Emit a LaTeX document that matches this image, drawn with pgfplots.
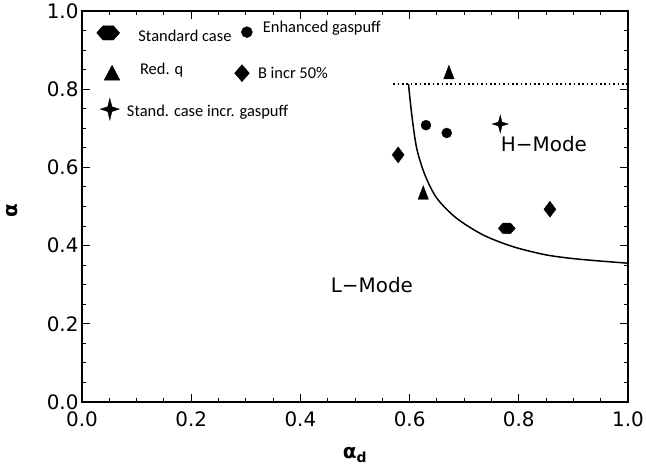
\documentclass[border=0pt]{standalone}
\usepackage{fontspec}
\setmainfont{DejaVu Sans}
\newfontfamily\cali{Carlito}
\usepackage{pgfplots}
\pgfplotsset{compat=1.18}

% flat-topped hexagon
\pgfdeclareplotmark{hexa}{%
  \pgfpathmoveto{\pgfqpoint{-\pgfplotmarksize}{0pt}}%
  \pgfpathlineto{\pgfqpoint{-0.45\pgfplotmarksize}{0.62\pgfplotmarksize}}%
  \pgfpathlineto{\pgfqpoint{0.45\pgfplotmarksize}{0.62\pgfplotmarksize}}%
  \pgfpathlineto{\pgfqpoint{\pgfplotmarksize}{0pt}}%
  \pgfpathlineto{\pgfqpoint{0.45\pgfplotmarksize}{-0.62\pgfplotmarksize}}%
  \pgfpathlineto{\pgfqpoint{-0.45\pgfplotmarksize}{-0.62\pgfplotmarksize}}%
  \pgfpathclose
  \pgfusepathqfillstroke}
% four-pointed star
\pgfdeclareplotmark{fourstar}{%
  \pgfpathmoveto{\pgfqpoint{0pt}{\pgfplotmarksize}}%
  \pgfpathlineto{\pgfqpoint{0.22\pgfplotmarksize}{0.22\pgfplotmarksize}}%
  \pgfpathlineto{\pgfqpoint{\pgfplotmarksize}{0pt}}%
  \pgfpathlineto{\pgfqpoint{0.22\pgfplotmarksize}{-0.22\pgfplotmarksize}}%
  \pgfpathlineto{\pgfqpoint{0pt}{-\pgfplotmarksize}}%
  \pgfpathlineto{\pgfqpoint{-0.22\pgfplotmarksize}{-0.22\pgfplotmarksize}}%
  \pgfpathlineto{\pgfqpoint{-\pgfplotmarksize}{0pt}}%
  \pgfpathlineto{\pgfqpoint{-0.22\pgfplotmarksize}{0.22\pgfplotmarksize}}%
  \pgfpathclose
  \pgfusepathqfillstroke}

\begin{document}
\begin{tikzpicture}
\useasboundingbox (-82bp,-65bp) rectangle (564bp,402bp);
\begin{axis}[
    at={(0,0)}, anchor=south west,
    width=546bp, height=391bp, scale only axis,
    xmin=0, xmax=1, ymin=0, ymax=1,
    xtick={0,0.2,0.4,0.6,0.8,1.0},
    ytick={0,0.2,0.4,0.6,0.8,1.0},
    minor tick num=3,
    tick align=inside,
    major tick length=8bp, minor tick length=4bp,
    axis line style={line width=1.8bp},
    every tick/.style={black, line width=1bp},
    tick label style={font=\fontsize{20}{23}\selectfont},
    xticklabel style={yshift=-6bp},
    /pgf/number format/.cd, fixed, fixed zerofill, precision=1, assume math mode=true,
    /pgfplots/.cd,
    xlabel={\textbf{α}\textsubscript{\textbf{d}}},
    ylabel={\textbf{α}},
    label style={font=\fontsize{20}{23}\selectfont},
    xlabel style={at={(axis description cs:0.5,-0.136)}, anchor=center},
    ylabel style={at={(axis description cs:-0.128,0.49)}, anchor=center},
    clip=false,
  ]
  % boundary curve
  \addplot[black, line width=1.5bp, smooth, tension=0.5] coordinates {
    (0.598,0.813) (0.604,0.734) (0.613,0.649) (0.628,0.581) (0.650,0.521)
    (0.686,0.470) (0.735,0.427) (0.790,0.397) (0.851,0.376) (0.912,0.365)
    (1.000,0.355)
  };
  \addplot[black, line width=1.6bp, dash pattern=on 1.6bp off 2.8bp] coordinates {
    (0.570,0.813) (1.0,0.813)
  };

  % data points
  \addplot[only marks, mark=hexa, mark size=8.5bp] coordinates {(0.778,0.444)};
  \addplot[only marks, mark=*, mark size=5bp] coordinates {(0.630,0.708) (0.668,0.688)};
  \addplot[only marks, mark=triangle*, mark size=6bp, mark options={yscale=1.5}] coordinates {(0.672,0.838) (0.625,0.530)};
  \addplot[only marks, mark=diamond*, mark size=8bp] coordinates {(0.579,0.632) (0.857,0.493)};
  \addplot[only marks, mark=fourstar, mark size=8bp, mark options={yscale=1.1}] coordinates {(0.766,0.711)};

  % key markers
  \addplot[only marks, mark=hexa, mark size=11.5bp] coordinates {(0.048,0.944)};
  \addplot[only marks, mark=*, mark size=5.5bp] coordinates {(0.302,0.946)};
  \addplot[only marks, mark=triangle*, mark size=9bp, mark options={yscale=1.1}] coordinates {(0.055,0.836)};
  \addplot[only marks, mark=diamond*, mark size=8.5bp, mark options={xscale=1.15}] coordinates {(0.293,0.841)};
  \addplot[only marks, mark=fourstar, mark size=9.5bp, mark options={yscale=1.15}] coordinates {(0.051,0.749)};

  \begin{scope}[every node/.style={anchor=west, inner sep=0pt, font=\cali\fontsize{16.5}{19}\selectfont}]
    \node at (axis cs:0.103,0.937) {Standard case};
    \node at (axis cs:0.331,0.955) {Enhanced gaspuff};
    \node at (axis cs:0.106,0.849) {Red. q};
    \node at (axis cs:0.322,0.842) {B incr 50\%};
    \node at (axis cs:0.082,0.740) {Stand. case incr. gaspuff};
  \end{scope}

  \node[font=\fontsize{20}{23}\selectfont] at (axis cs:0.846,0.660) {H−Mode};
  \node[font=\fontsize{20}{23}\selectfont] at (axis cs:0.531,0.299) {L−Mode};
\end{axis}
\end{tikzpicture}
\end{document}
